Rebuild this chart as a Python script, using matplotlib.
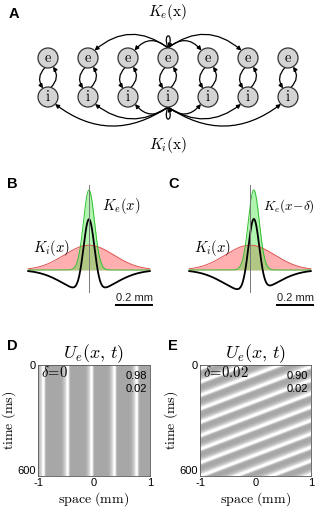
import numpy as np
import matplotlib.pyplot as plt
from matplotlib.patches import Circle, FancyArrowPatch
from matplotlib.path import Path
from matplotlib.colors import LinearSegmentedColormap

plt.rcParams['font.family'] = ['Liberation Sans', 'DejaVu Sans']
plt.rcParams['mathtext.fontset'] = 'cm'
plt.rcParams['axes.unicode_minus'] = False

W, H = 324, 512

# --- A: ring of e/i populations, centre column projects to its neighbours
node_cols = [-3, -2, -1, 0, 1, 2, 3]
exc_targets = [-2, -1, 1, 2]
inh_targets = [-3, -2, -1, 1, 2, 3]

# --- B/C: connectivity kernels (x in mm)
kernel_xmax = 0.32
ke_amp, ke_sigma = 1.0, 0.029
ki_amp, ki_sigma = 0.31, 0.13
diff_gain = 0.92
delta_shift = 0.02
scalebar_mm = 0.2

# --- D: stationary bumps (white stripe centres, mm)
d_stripes = [-0.905, -0.47, -0.04, 0.37, 0.77]
d_delta = r'$\delta\!=\!0$'
d_vals = ['0.98', '0.02']

# --- E: travelling bumps, time each stripe crosses x=-1 (ms) and its tilt (ms/mm)
e_cross_times = [19, 92, 165, 238, 311, 384, 457, 530, 603, 676, 749, 822]
e_tilt = 114
e_delta = r'$\delta\!=\!0.02$'
e_vals = ['0.90', '0.02']

fig = plt.figure(figsize=(W / 100, H / 100), dpi=100)


def px_axes(l, t, r, b):
    return fig.add_axes([l / W, 1 - b / H, (r - l) / W, (b - t) / H])


def panel_label(x, y, s):
    fig.text(x / W, 1 - y / H, s, fontsize=10.5, fontweight='bold',
             ha='left', va='top')


# ---------------- A ----------------
axA = px_axes(0, 0, W, 170)
axA.set_xlim(0, W)
axA.set_ylim(170, 0)
axA.axis('off')

cx0, step = 168, 40
ye, yi, r = 58, 97, 10
arrow_kw = dict(arrowstyle='-|>', mutation_scale=6, lw=0.9, color='black',
                shrinkA=0, shrinkB=0)

for c in node_cols:
    x = cx0 + c * step
    for y, lab in ((ye, 'e'), (yi, 'i')):
        axA.add_patch(Circle((x, y), r, facecolor='#d4d4d4',
                             edgecolor='#333333', lw=0.9, zorder=3))
        axA.text(x, y - 0.5, r'$\mathrm{%s}$' % lab, fontsize=10.5,
                 ha='center', va='center', zorder=4)
    # e -> i on the left, i -> e on the right
    axA.add_patch(FancyArrowPatch((x - 3, ye + 9.6), (x - 5, yi - 8.6),
                                  connectionstyle='arc3,rad=0.4', **arrow_kw))
    axA.add_patch(FancyArrowPatch((x + 3, yi - 9.6), (x + 5, ye + 8.6),
                                  connectionstyle='arc3,rad=0.4', **arrow_kw))

# excitatory projections from the top of the centre e
top = (cx0, ye - r)
for c in exc_targets:
    tx = cx0 + c * step
    end = (tx - np.sign(c) * 6.5, ye - 7.5)
    rad = 0.5 if abs(c) == 1 else 0.4
    rad = rad if c < 0 else -rad
    axA.add_patch(FancyArrowPatch(top, end, connectionstyle='arc3,rad=%g' % rad,
                                  **arrow_kw))
loop = Path([top, (cx0 - 6, ye - r - 16), (cx0 + 6, ye - r - 16), (cx0 + 0.5, ye - r)],
            [Path.MOVETO, Path.CURVE4, Path.CURVE4, Path.CURVE4])
axA.add_patch(FancyArrowPatch(path=loop, **arrow_kw))

# inhibitory projections from the bottom of the centre i
bot = (cx0, yi + r)
for c in inh_targets:
    tx = cx0 + c * step
    end = (tx - np.sign(c) * 7, yi + 7)
    rad = {1: 0.5, 2: 0.36, 3: 0.36}[abs(c)]
    rad = -rad if c < 0 else rad
    axA.add_patch(FancyArrowPatch(bot, end, connectionstyle='arc3,rad=%g' % rad,
                                  **arrow_kw))
loop = Path([bot, (cx0 - 6, yi + r + 16), (cx0 + 6, yi + r + 16), (cx0 + 0.5, yi + r)],
            [Path.MOVETO, Path.CURVE4, Path.CURVE4, Path.CURVE4])
axA.add_patch(FancyArrowPatch(path=loop, **arrow_kw))

axA.text(cx0, 12, r'$K_e(\mathrm{x})$', fontsize=11, ha='center', va='center')
axA.text(cx0, 145, r'$K_i(\mathrm{x})$', fontsize=11, ha='center', va='center')
panel_label(9, 7, 'A')


# ---------------- B / C ----------------
def gauss(x, a, s, mu=0.0):
    return a * np.exp(-(x - mu) ** 2 / (2 * s ** 2))


def kernel_panel(left, center, shift, ke_label, ke_size):
    span = (center - left) / 190.0
    ax = px_axes(left, 180, 2 * center - left, 312)
    ax.set_xlim(-span, span)
    ax.set_ylim(-0.525, 1.125)
    ax.axis('off')
    x = np.linspace(-kernel_xmax, kernel_xmax, 500)
    ke = gauss(x, ke_amp, ke_sigma, shift)
    ki = gauss(x, ki_amp, ki_sigma)
    ax.fill_between(x, 0, ki, color='#ff6060', alpha=0.5, lw=0)
    ax.fill_between(x, 0, ke, color='#50e850', alpha=0.45, lw=0)
    ax.plot(x, ki, color='#e05050', lw=0.7)
    ax.plot(x, ke, color='#30c030', lw=0.7)
    ax.plot(x, diff_gain * (ke - ki), color='black', lw=1.3)
    ax.plot([0, 0], [-0.275, 1.06], color='#777777', lw=0.7)
    ax.text(0.07, 0.8, ke_label, fontsize=ke_size, ha='left', va='center')
    ax.text(-0.295, 0.28, r'$K_i(x)$', fontsize=10.5, ha='left', va='center')
    x0 = 0.137
    ax.plot([x0, x0 + scalebar_mm], [-0.4375, -0.4375], color='black', lw=1.4,
            solid_capstyle='butt')
    ax.text(x0 + scalebar_mm / 2, -0.41, '%g mm' % scalebar_mm, fontsize=8,
            ha='center', va='bottom', color='#222222')
    return ax


kernel_panel(20, 89, 0.0, r'$K_e(x)$', 10.5)
kernel_panel(181, 250, delta_shift, r'$K_e(x\!-\!\delta)$', 9.5)
panel_label(7, 177, 'B')
panel_label(168, 177, 'C')

# ---------------- D / E ----------------
cmap = LinearSegmentedColormap.from_list('bump', ['#a7a7a7', '#ffffff'])
xs = np.linspace(-1, 1, 224)
ts = np.linspace(0, 600, 222)
X, T = np.meshgrid(xs, ts)


def bump(d, core, halo):
    v = np.exp(-d ** 2 / (2 * core ** 2)) + 0.5 * np.exp(-(d + halo) ** 2 / (2 * halo ** 2))
    return np.clip(v, 0, 1)


U_d = np.zeros_like(X)
for s in d_stripes:
    U_d = np.maximum(U_d, bump(X - s, 0.017, 0.035))

U_e = np.zeros_like(X)
for tk in e_cross_times:
    t_line = tk - e_tilt * (X + 1)
    U_e = np.maximum(U_e, bump(T - t_line, 6.5, 11.0))


def field_panel(left, right, U, delta_txt, vals):
    ax = px_axes(left, 365, right, 476)
    ax.imshow(U, cmap=cmap, vmin=0, vmax=1, extent=[-1, 1, 600, 0],
              aspect='auto', interpolation='antialiased')
    ax.set_xticks([-1, 0, 1])
    ax.set_yticks([0, 600])
    ax.tick_params(length=0, pad=1.5, labelsize=8)
    ax.get_yticklabels()[-1].set_va('bottom')
    for sp in ax.spines.values():
        sp.set_linewidth(0.6)
        sp.set_color('#555555')
    ax.set_xlabel(r'$\mathrm{space\ (mm)}$', fontsize=10)
    ax.xaxis.set_label_coords(0.5, -0.125)
    ax.set_ylabel(r'$\mathrm{time\ (ms)}$', fontsize=10)
    ax.yaxis.set_label_coords(-0.18, 0.5)
    ax.text(0.5, 1.1, r'$U_e(x,\,t)$', transform=ax.transAxes, fontsize=13,
            ha='center', va='center')
    ax.text(0.03, 0.93, delta_txt, transform=ax.transAxes, fontsize=10.5,
            ha='left', va='center')
    ax.text(0.97, 0.9, vals[0], transform=ax.transAxes, fontsize=8,
            ha='right', va='center')
    ax.text(0.97, 0.78, vals[1], transform=ax.transAxes, fontsize=8,
            ha='right', va='center')
    return ax


field_panel(38, 150, U_d, d_delta, d_vals)
field_panel(200, 311, U_e, e_delta, e_vals)
panel_label(7, 339, 'D')
panel_label(168, 339, 'E')

fig.savefig('out.png', dpi=100)
